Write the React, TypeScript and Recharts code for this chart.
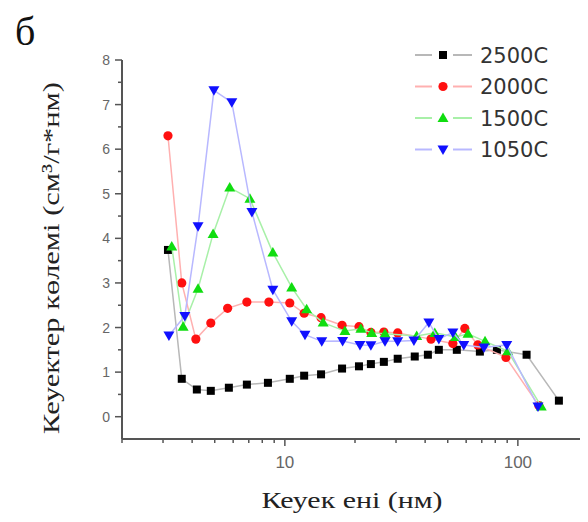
import React from "react";
import { ScatterChart, Scatter, XAxis, YAxis } from "recharts";

// ---- data ----
const seriesNames = ["2500C", "2000C", "1500C", "1050C"];

const pore2500 = [3.15, 3.61, 4.19, 4.81, 5.75, 6.87, 8.46, 10.5, 12.1, 14.3, 17.6, 20.8, 23.4, 26.6, 30.5, 36.1, 41.1, 45.8, 54.7, 68.7, 81.3, 109, 150];
const vol2500 = [3.74, 0.85, 0.61, 0.58, 0.65, 0.72, 0.76, 0.85, 0.92, 0.95, 1.08, 1.13, 1.18, 1.23, 1.3, 1.35, 1.39, 1.5, 1.5, 1.46, 1.5, 1.39, 0.36];

const pore2000 = [3.15, 3.61, 4.15, 4.81, 5.68, 6.87, 8.54, 10.5, 12.1, 14.3, 17.6, 20.8, 23.4, 26.6, 30.5, 42.4, 52.6, 59.2, 67.3, 88.9, 123];
const vol2000 = [6.3, 3.0, 1.74, 2.1, 2.43, 2.57, 2.57, 2.55, 2.32, 2.22, 2.05, 2.02, 1.89, 1.9, 1.88, 1.74, 1.64, 1.98, 1.61, 1.33, 0.25];

const pore1500 = [3.27, 3.66, 4.24, 4.92, 5.8, 7.08, 8.88, 10.7, 12.4, 14.6, 18.1, 21.2, 23.6, 26.9, 36.8, 44.0, 54.0, 61.1, 72.3, 90.5, 126];
const vol1500 = [3.82, 2.02, 2.87, 4.1, 5.14, 4.89, 3.68, 2.9, 2.41, 2.11, 1.92, 1.97, 1.88, 1.86, 1.81, 1.88, 1.79, 1.86, 1.69, 1.47, 0.23];

const pore1050 = [3.18, 3.72, 4.24, 4.96, 5.92, 7.22, 8.88, 10.7, 12.2, 14.4, 17.7, 21.0, 23.4, 26.9, 30.5, 35.8, 41.5, 45.8, 52.6, 58.6, 71.5, 89.6, 122];
const vol1050 = [1.82, 2.26, 4.27, 7.32, 7.05, 4.59, 2.85, 2.14, 1.84, 1.69, 1.7, 1.61, 1.6, 1.69, 1.69, 1.71, 2.11, 1.74, 1.89, 1.61, 1.55, 1.61, 0.23];

const xTicks = [2, 3, 4, 5, 6, 7, 8, 9, 10, 20, 30, 40, 50, 60, 70, 80, 90, 100, 200];
const xLabelTicks = [10, 100];
const yTicks = [0, 0.5, 1, 1.5, 2, 2.5, 3, 3.5, 4, 4.5, 5, 5.5, 6, 6.5, 7, 7.5, 8];

const toPoints = (xs: number[], ys: number[]) => xs.map((x, i) => ({ x, y: ys[i] }));
const data2500 = toPoints(pore2500, vol2500);
const data2000 = toPoints(pore2000, vol2000);
const data1500 = toPoints(pore1500, vol1500);
const data1050 = toPoints(pore1050, vol1050);

const AXIS = "#555";
const markColors = ["#000000", "#ff1010", "#10dd10", "#1010ff"];
const lineColors = ["#b8b8b8", "#ffb0b0", "#a8f0a8", "#b8b8ff"];

const Square = (p: any) => <rect x={p.cx - 4} y={p.cy - 4} width={8} height={8} fill={markColors[0]} />;
const Dot = (p: any) => <circle cx={p.cx} cy={p.cy} r={4.6} fill={markColors[1]} />;
const Up = (p: any) => (
  <polygon points={`${p.cx},${p.cy - 5.5} ${p.cx + 5.5},${p.cy + 4} ${p.cx - 5.5},${p.cy + 4}`} fill={markColors[2]} />
);
const Down = (p: any) => (
  <polygon points={`${p.cx - 5.5},${p.cy - 4} ${p.cx + 5.5},${p.cy - 4} ${p.cx},${p.cy + 5.5}`} fill={markColors[3]} />
);
const shapes = [Square, Dot, Up, Down];

const XTick = (props: any) => {
  const { x, y, payload } = props;
  const v = payload.value;
  const major = xLabelTicks.includes(v);
  return (
    <g>
      <line x1={x} y1={y} x2={x} y2={y + (major ? 7 : 4)} stroke={AXIS} strokeWidth={1.5} />
      {major && (
        <text x={x} y={y + 29} textAnchor="middle" fontSize={17} fill="#666" fontFamily="'Liberation Sans', Arial, sans-serif">
          {v}
        </text>
      )}
    </g>
  );
};

const YTick = (props: any) => {
  const { x, y, payload } = props;
  const v = payload.value;
  const major = Number.isInteger(v);
  return (
    <g>
      <line x1={x} y1={y} x2={x - (major ? 7 : 4)} y2={y} stroke={AXIS} strokeWidth={1.5} />
      {major && (
        <text x={x - 12} y={y + 5} textAnchor="end" fontSize={14} fill="#666" fontFamily="'Liberation Sans', Arial, sans-serif">
          {v}
        </text>
      )}
    </g>
  );
};

export default function App() {
  const all = [data2500, data2000, data1500, data1050];
  return (
    <div style={{ position: "relative", width: 580, height: 514 }}>
      <ScatterChart width={580} height={514} margin={{ top: 52, right: 0, left: 84, bottom: 53 }}>
        <XAxis
          type="number"
          dataKey="x"
          scale="log"
          domain={[2, 200]}
          allowDataOverflow
          ticks={xTicks}
          interval={0}
          tick={<XTick />}
          tickLine={false}
          tickSize={0}
          tickMargin={0}
          height={30}
          axisLine={{ stroke: AXIS, strokeWidth: 2 }}
        />
        <YAxis
          type="number"
          dataKey="y"
          domain={[-0.5, 8]}
          allowDataOverflow
          ticks={yTicks}
          interval={0}
          tick={<YTick />}
          tickLine={false}
          tickSize={0}
          tickMargin={0}
          width={30}
          axisLine={{ stroke: AXIS, strokeWidth: 2 }}
        />
        {all.map((d, i) => (
          <Scatter
            key={seriesNames[i]}
            name={seriesNames[i]}
            data={d}
            line={{ stroke: lineColors[i], strokeWidth: 1.5 }}
            lineType="joint"
            shape={shapes[i]}
            isAnimationActive={false}
          />
        ))}
      </ScatterChart>
      <svg
        width={580}
        height={514}
        style={{ position: "absolute", left: 0, top: 0, pointerEvents: "none" }}
      >
        <text x={7} y={37} fontSize={40} fill="#111" fontFamily="'Liberation Serif', 'Times New Roman', serif">
          б
        </text>
        <g transform="translate(405,30)">
          {seriesNames.map((name, i) => {
            const cy = 17 + 31.5 * i;
            const Shape = shapes[i];
            return (
              <g key={name}>
                <line x1={2} y1={cy} x2={19} y2={cy} stroke={lineColors[i]} strokeWidth={2} />
                <line x1={40} y1={cy} x2={59} y2={cy} stroke={lineColors[i]} strokeWidth={2} />
                <Shape cx={30} cy={cy} />
                <text x={67} y={cy + 7.5} fontSize={21} fill="#333" fontFamily="'DejaVu Sans', sans-serif">
                  {name}
                </text>
              </g>
            );
          })}
        </g>
        <text
          transform="translate(51,250) rotate(-90)"
          textAnchor="middle"
          fontSize={24}
          fill="#222"
          textLength={352}
          lengthAdjust="spacingAndGlyphs"
          fontFamily="'Liberation Serif', 'Times New Roman', serif"
        >
          Кеуектер көлемі (см³/г*нм)
        </text>
        <text
          x={344}
          y={500}
          textAnchor="middle"
          fontSize={24}
          fill="#222"
          textLength={181}
          lengthAdjust="spacingAndGlyphs"
          fontFamily="'Liberation Serif', 'Times New Roman', serif"
        >
          Кеуек ені (нм)
        </text>
      </svg>
    </div>
  );
}
